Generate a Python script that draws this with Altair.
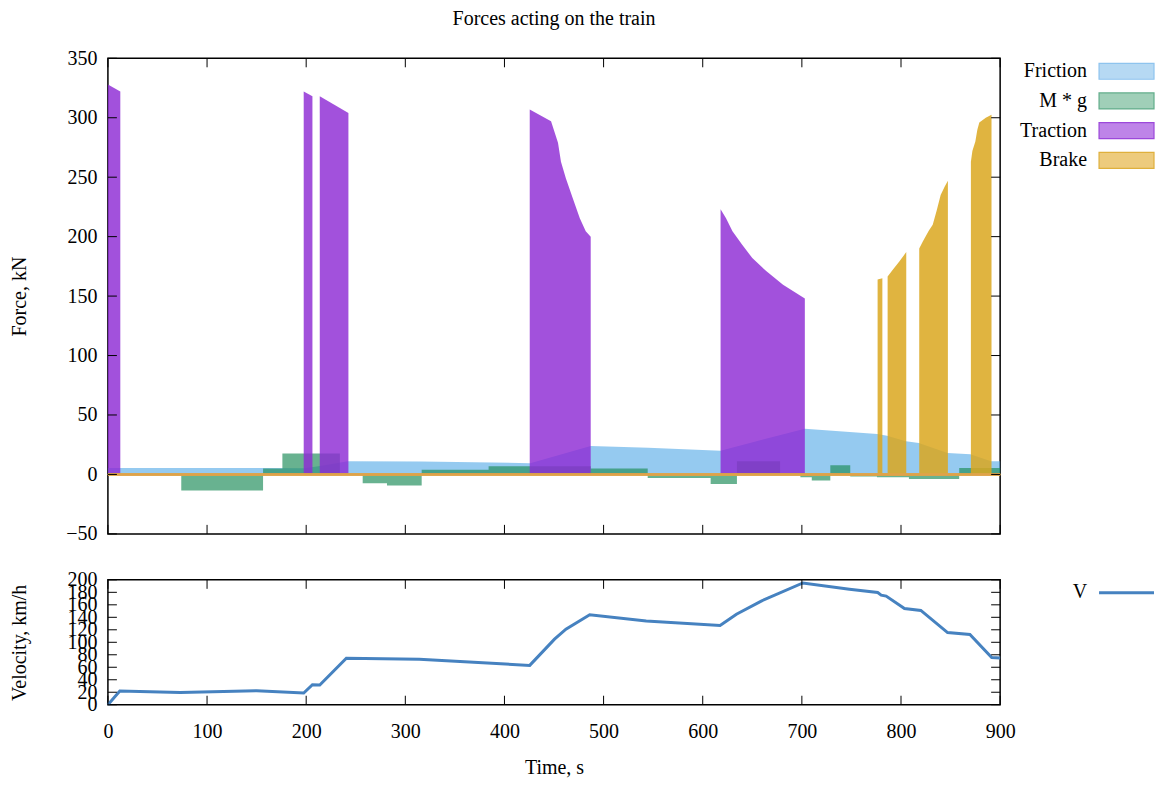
import altair as alt
import pandas as pd

# ---------------- data ----------------
x_ticks = [0, 100, 200, 300, 400, 500, 600, 700, 800, 900]
force_ticks = [-50, 0, 50, 100, 150, 200, 250, 300, 350]
vel_ticks = [0, 20, 40, 60, 80, 100, 120, 140, 160, 180, 200]

friction_t = [0, 12, 157, 198, 214, 242, 316, 426, 487, 545, 618, 703, 776, 786, 805, 818, 847, 870, 891, 900]
friction_f = [5.5, 5.5, 5.5, 5.2, 7, 11, 10.8, 9.5, 24, 22.5, 20, 38.5, 34, 32.5, 28, 26.5, 18, 17, 11, 11]

mg_t = [0, 74, 156.5, 176, 234, 257, 281.5, 316.5, 384, 487, 544.5, 608, 634.5, 678, 698.5, 710, 728.7, 748.8, 775.7, 808, 858.7, 900]
mg_f = [0, -13.5, 5, 17.5, 0, -7.4, -9.4, 4, 6.9, 4.9, -3, -8, 11, 0, -2.4, -5.2, 7.7, -1.8, -2.4, -3.8, 5.5, 5.5]

traction_t = [[0, 12.5], [197.5, 206.3], [213.7, 242.6],
              [425.5, 447, 450.5, 454, 457, 462, 469, 476, 482, 487],
              [618, 623.5, 630, 640, 650, 664, 681, 703]]
traction_f = [[328, 322], [322, 318], [318, 304],
              [307, 297, 288, 279, 263, 249, 232, 215.5, 204.5, 200],
              [223, 215.5, 204.5, 193, 182, 171, 159.5, 148]]

brake_t = [[776.4, 781.2], [786.5, 791.5, 798.3, 805.3],
           [818.4, 822, 828, 832, 836, 840, 844, 847.3],
           [870.5, 872, 875, 877, 879, 885.5, 891.3]]
brake_f = [[164, 165], [166.5, 172, 179, 187],
           [190, 196, 205, 210, 222, 235, 242, 247],
           [263, 272, 280, 290, 296, 300, 302.5]]

velocity_t = [0, 12, 73, 150, 197.5, 206.3, 213.7, 240.5, 314, 425.5, 450.5, 462, 486, 543, 617.5,
              634, 659, 701, 748, 776.5, 780, 785, 803.5, 820, 847, 869.5, 891.5, 900]
velocity_v = [0, 22, 19.5, 22.5, 18.7, 32, 31.6, 74.5, 73, 63, 105, 121, 144, 134, 127,
              145, 166, 195, 185, 179.7, 175.5, 174, 154, 151, 115.5, 112.5, 75.7, 75]

legend_names = ["Friction", "M * g", "Traction", "Brake"]
legend_fill = ["#B6D9F3", "#A0CFB8", "#BE84E8", "#EDCB7D"]
legend_stroke = ["#8EC4EE", "#62AD8A", "#9C48DA", "#DFB03C"]

# ---------------- tables ----------------
fr_df = pd.DataFrame({"t": friction_t, "f": friction_f})
mg_df = pd.DataFrame({"t": mg_t, "f": mg_f})
tr_df = pd.DataFrame([{"t": t, "f": f, "block": i}
                      for i, (ts, fs) in enumerate(zip(traction_t, traction_f))
                      for t, f in zip(ts, fs)])
br_df = pd.DataFrame([{"t": t, "f": f, "block": i}
                      for i, (ts, fs) in enumerate(zip(brake_t, brake_f))
                      for t, f in zip(ts, fs)])
v_df = pd.DataFrame({"t": velocity_t, "f": velocity_v})
xt_df = pd.DataFrame({"t": x_ticks})
ft_df = pd.DataFrame({"f": force_ticks})
vt_df = pd.DataFrame({"f": vel_ticks})
leg1_df = pd.DataFrame({"name": legend_names, "fill": legend_fill, "stroke": legend_stroke})
leg2_df = pd.DataFrame({"name": ["V"]})

W, H1, H2 = 893, 476, 125
FONT = "Liberation Serif"
FS = 20

xscale = alt.Scale(domain=[0, 900], nice=False, zero=False)
y1scale = alt.Scale(domain=[-50, 350], nice=False, zero=False)
y2scale = alt.Scale(domain=[0, 200], nice=False, zero=False)

def yaxis(title, vals):
    return alt.Axis(title=title, values=vals, ticks=False, tickSize=0, domain=False, grid=False,
                    labelPadding=11, labelFontSize=FS, titleFontSize=FS, titleFontWeight="normal",
                    labelFont=FONT, titleFont=FONT, labelColor="black", titleColor="black",
                    minExtent=45, maxExtent=45, titlePadding=33,
                    labelOverlap=False, labelFlush=False)

X_none = alt.X("t:Q", scale=xscale, axis=None)
Y1 = alt.Y("f:Q", scale=y1scale, axis=yaxis("Force, kN", force_ticks))
X_axis = alt.X("t:Q", scale=xscale,
               axis=alt.Axis(title="Time, s", values=x_ticks, format="d", ticks=False, tickSize=0,
                             domain=False, grid=False, labelPadding=17, titlePadding=16,
                             labelFontSize=FS, titleFontSize=FS, titleFontWeight="normal",
                             labelFont=FONT, titleFont=FONT, labelColor="black", titleColor="black",
                             labelOverlap=False, labelFlush=False))
Y2 = alt.Y("f:Q", scale=y2scale, axis=yaxis("Velocity, km/h", vel_ticks))

# ---------------- top panel ----------------
friction = alt.Chart(fr_df).mark_area(color="#4FA6E6", opacity=0.6).encode(
    x=X_none, y=Y1, y2=alt.datum(0))
mg = alt.Chart(mg_df).mark_area(color="#218D5B", opacity=0.68, interpolate="step-after").encode(
    x=X_none, y=Y1, y2=alt.datum(0))
traction = alt.Chart(tr_df).mark_area(color="#8E2BD4", opacity=0.82).encode(
    x=X_none, y=Y1, y2=alt.datum(0), detail="block:N")
brake = alt.Chart(br_df).mark_area(color="#DBA71E", opacity=0.85).encode(
    x=X_none, y=Y1, y2=alt.datum(0), detail="block:N")
zero_line = alt.Chart(xt_df).mark_rule(color="#DFA24A", strokeWidth=1.5).encode(
    y=alt.datum(0), x=alt.value(0), x2=alt.value(W))

def tick_layers(X, df_y, Y, H):
    tx_top = alt.Chart(xt_df).mark_rule(color="black", strokeWidth=1).encode(
        x=X, y=alt.value(0), y2=alt.value(9))
    tx_bot = alt.Chart(xt_df).mark_rule(color="black", strokeWidth=1).encode(
        x=X, y=alt.value(H - 9), y2=alt.value(H))
    ty_left = alt.Chart(df_y).mark_rule(color="black", strokeWidth=1).encode(
        y=Y, x=alt.value(0), x2=alt.value(9))
    ty_right = alt.Chart(df_y).mark_rule(color="black", strokeWidth=1).encode(
        y=Y, x=alt.value(W - 9), x2=alt.value(W))
    return [tx_top, tx_bot, ty_left, ty_right]

top = alt.layer(friction, mg, traction, brake, zero_line,
                *tick_layers(X_none, ft_df, Y1, H1)).properties(
    width=W, height=H1,
    title=alt.TitleParams("Forces acting on the train", offset=19, fontSize=FS, font=FONT,
                          fontWeight="normal", color="black"))

# ---------------- bottom panel ----------------
vline = alt.Chart(v_df).mark_line(color="#4682C0", strokeWidth=3).encode(x=X_axis, y=Y2)
bottom = alt.layer(vline, *tick_layers(X_axis, vt_df, Y2, H2)).properties(width=W, height=H2)

# ---------------- legends ----------------
LW = 144
leg1_base = alt.Chart(leg1_df).transform_window(idx="row_number()").transform_calculate(
    yc="13 + (datum.idx - 1) * 29.7", y0="datum.yc - 8", y1="datum.yc + 8")
leg1_text = leg1_base.mark_text(align="right", baseline="middle", fontSize=FS, font=FONT,
                                color="black").encode(
    x=alt.value(77), y=alt.Y("yc:Q", scale=None), text="name:N")
leg1_rect = leg1_base.mark_rect(strokeWidth=1.2).encode(
    x=alt.value(89), x2=alt.value(LW), y=alt.Y("y0:Q", scale=None), y2="y1:Q",
    fill=alt.Fill("fill:N", scale=None), stroke=alt.Stroke("stroke:N", scale=None))
legend1 = alt.layer(leg1_rect, leg1_text).properties(
    width=LW, height=H1, view=alt.ViewBackground(stroke="transparent"))

leg2_text = alt.Chart(leg2_df).mark_text(align="right", baseline="middle", fontSize=FS, font=FONT,
                                         color="black").encode(
    x=alt.value(77), y=alt.value(12), text="name:N")
leg2_line = alt.Chart(leg2_df).mark_rule(color="#4682C0", strokeWidth=3).encode(
    x=alt.value(89), x2=alt.value(LW), y=alt.value(13))
legend2 = alt.layer(leg2_line, leg2_text).properties(
    width=LW, height=H2, view=alt.ViewBackground(stroke="transparent"))

row1 = alt.hconcat(top, legend1, spacing=10, bounds="flush")
row2 = alt.hconcat(bottom, legend2, spacing=10, bounds="flush")

chart = alt.vconcat(row1, row2, spacing=24).properties(
    padding={"left": 1, "top": 0, "right": 0, "bottom": 0}
).configure(font=FONT).configure_view(stroke="black", strokeWidth=1.5)

chart.save("out.html", embed_options={"renderer": "svg", "actions": False})
